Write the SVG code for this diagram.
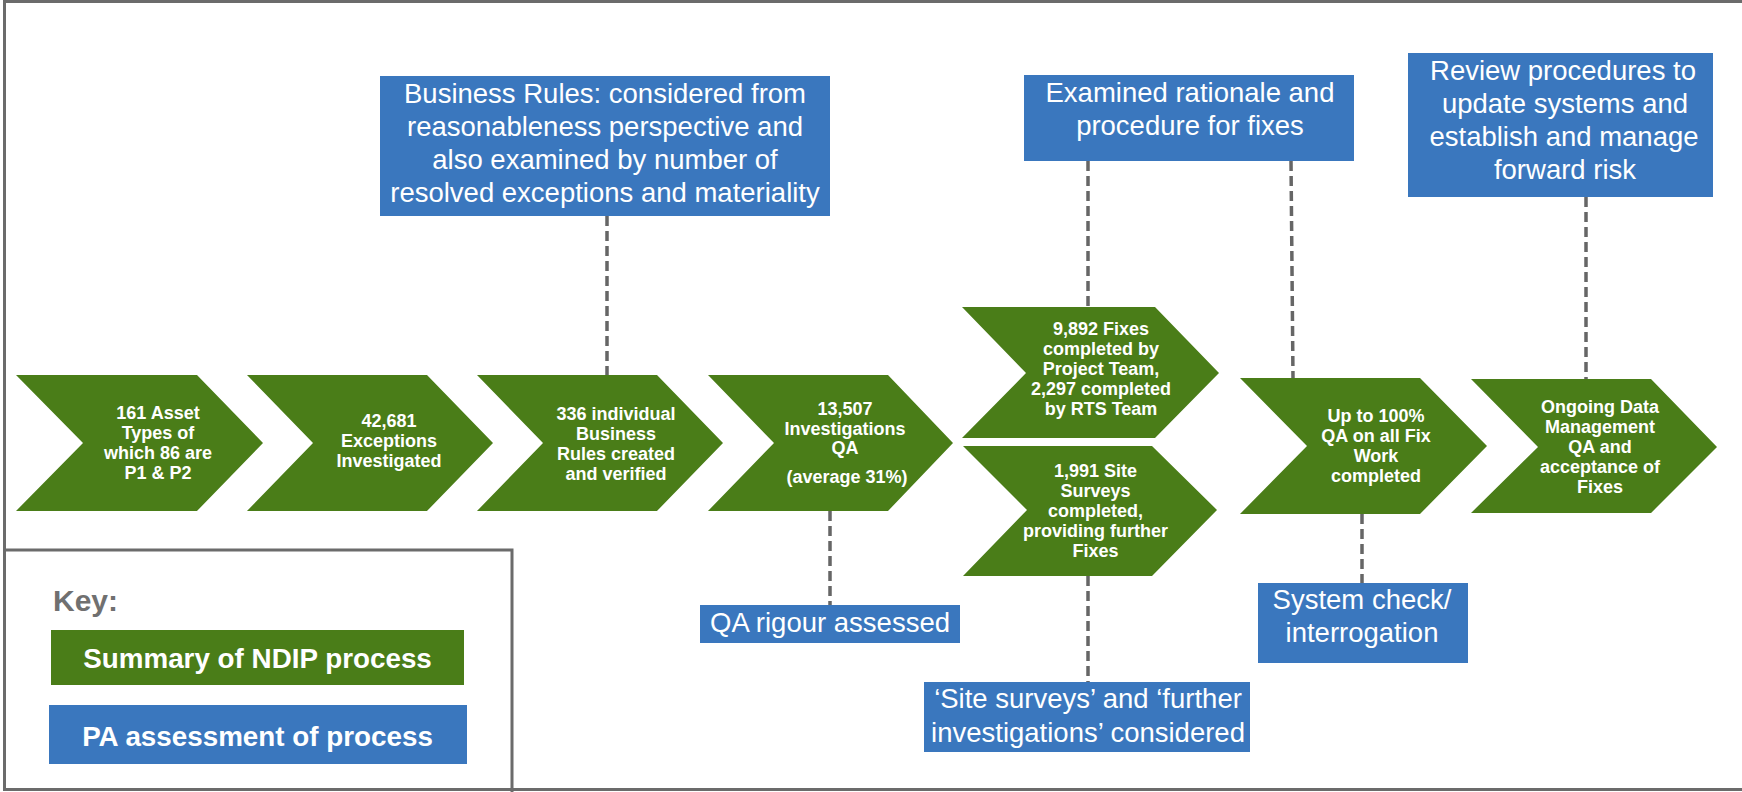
<svg xmlns="http://www.w3.org/2000/svg" width="1742" height="792" viewBox="0 0 1742 792">
<style>
.chev{fill:#4A7D18;}
.blue{fill:#3A77BE;}
.ct{font-family:"Liberation Sans",Arial,sans-serif;font-weight:bold;font-size:18px;fill:#ffffff;text-anchor:middle;}
.bt{font-family:"Liberation Sans",Arial,sans-serif;font-size:27.5px;fill:#ffffff;text-anchor:middle;}
.kt{font-family:"Liberation Sans",Arial,sans-serif;font-weight:bold;font-size:27.8px;fill:#ffffff;text-anchor:middle;}
.conn{stroke:#666666;stroke-width:3.5;stroke-dasharray:10 5;fill:none;}
.frame{stroke:#6B6B6B;stroke-width:3;fill:none;}
</style>
<rect x="0" y="0" width="1742" height="792" fill="#ffffff"/>
<g id="frame">
<path class="frame" d="M1745,1.5 H4.5 V789.5 H1745"/>
</g>
<g id="key">
<path class="frame" d="M4.5,550 H512 V792"/>
<text x="53" y="611" style="font-family:'Liberation Sans',Arial,sans-serif;font-weight:bold;font-size:30px;fill:#707070;">Key:</text>
<rect class="chev" x="51" y="630" width="413" height="55"/>
<text class="kt" x="257.5" y="668">Summary of NDIP process</text>
<rect class="blue" x="49" y="705" width="418" height="59"/>
<text class="kt" x="257.5" y="746">PA assessment of process</text>
</g>
<g id="connectors">
<line class="conn" x1="607" y1="216" x2="607" y2="375"/>
<line class="conn" x1="830" y1="511" x2="830" y2="605"/>
<line class="conn" x1="1088" y1="161" x2="1088" y2="307"/>
<line class="conn" x1="1291" y1="161" x2="1293" y2="378"/>
<line class="conn" x1="1586" y1="197" x2="1586" y2="379"/>
<line class="conn" x1="1362" y1="514" x2="1362" y2="583"/>
<line class="conn" x1="1088" y1="576" x2="1088" y2="682"/>
</g>
<g id="n1">
<polygon class="chev" points="16,375 197,375 263,443 197,511 16,511 83,443"/>
<text class="ct" x="158"><tspan x="158" y="419">161 Asset</tspan><tspan x="158" y="439">Types of</tspan><tspan x="158" y="459">which 86 are</tspan><tspan x="158" y="479">P1 &amp; P2</tspan></text>
</g>
<g id="n2">
<polygon class="chev" points="247,375 427,375 493,443 427,511 247,511 313,443"/>
<text class="ct" x="389"><tspan x="389" y="427">42,681</tspan><tspan x="389" y="447">Exceptions</tspan><tspan x="389" y="467">Investigated</tspan></text>
</g>
<g id="n3">
<polygon class="chev" points="477,375 657,375 723,443 657,511 477,511 543,443"/>
<text class="ct" x="616"><tspan x="616" y="420">336 individual</tspan><tspan x="616" y="440">Business</tspan><tspan x="616" y="460">Rules created</tspan><tspan x="616" y="480">and verified</tspan></text>
</g>
<g id="n4">
<polygon class="chev" points="708,375 888,375 953,443 888,511 708,511 774,443"/>
<text class="ct" x="845"><tspan x="845" y="415">13,507</tspan><tspan x="845" y="435">Investigations</tspan><tspan x="845" y="454">QA</tspan><tspan x="847" y="483">(average 31%)</tspan></text>
</g>
<g id="n5a">
<polygon class="chev" points="962,307 1155,307 1219,373 1155,438 962,438 1026,373"/>
<text class="ct" x="1101"><tspan x="1101" y="335">9,892 Fixes</tspan><tspan x="1101" y="355">completed by</tspan><tspan x="1101" y="375">Project Team,</tspan><tspan x="1101" y="395">2,297 completed</tspan><tspan x="1101" y="415">by RTS Team</tspan></text>
</g>
<g id="n5b">
<polygon class="chev" points="963,446 1152,446 1217,510 1152,576 963,576 1027,510"/>
<text class="ct" x="1095.5"><tspan x="1095.5" y="477">1,991 Site</tspan><tspan x="1095.5" y="497">Surveys</tspan><tspan x="1095.5" y="517">completed,</tspan><tspan x="1095.5" y="537">providing further</tspan><tspan x="1095.5" y="557">Fixes</tspan></text>
</g>
<g id="n6">
<polygon class="chev" points="1240,378 1420,378 1487,446 1420,514 1240,514 1307,446"/>
<text class="ct" x="1376"><tspan x="1376" y="422">Up to 100%</tspan><tspan x="1376" y="442">QA on all Fix</tspan><tspan x="1376" y="462">Work</tspan><tspan x="1376" y="482">completed</tspan></text>
</g>
<g id="n7">
<polygon class="chev" points="1471,379 1651,379 1717,447 1651,513 1471,513 1538,447"/>
<text class="ct" x="1600"><tspan x="1600" y="413">Ongoing Data</tspan><tspan x="1600" y="433">Management</tspan><tspan x="1600" y="453">QA and</tspan><tspan x="1600" y="473">acceptance of</tspan><tspan x="1600" y="493">Fixes</tspan></text>
</g>
<g id="b1">
<rect class="blue" x="380" y="76" width="450" height="140"/>
<text class="bt" x="605"><tspan x="605" y="103">Business Rules: considered from</tspan><tspan x="605" y="136">reasonableness perspective and</tspan><tspan x="605" y="169">also examined by number of</tspan><tspan x="605" y="202">resolved exceptions and materiality</tspan></text>
</g>
<g id="b2">
<rect class="blue" x="1024" y="75" width="330" height="86"/>
<text class="bt" x="1190"><tspan x="1190" y="102">Examined rationale and</tspan><tspan x="1190" y="135">procedure for fixes</tspan></text>
</g>
<g id="b3">
<rect class="blue" x="1408" y="53" width="305" height="144"/>
<text class="bt" x="1563"><tspan x="1563" y="80">Review procedures to</tspan><tspan x="1565" y="113">update systems and</tspan><tspan x="1564" y="146">establish and manage</tspan><tspan x="1565" y="179">forward risk</tspan></text>
</g>
<g id="b4">
<rect class="blue" x="700" y="605" width="260" height="38"/>
<text class="bt" x="830" y="632">QA rigour assessed</text>
</g>
<g id="b5">
<rect class="blue" x="924" y="682" width="326" height="70"/>
<text class="bt" x="1088"><tspan x="1088" y="708">‘Site surveys’ and ‘further</tspan><tspan x="1088" y="742">investigations’ considered</tspan></text>
</g>
<g id="b6">
<rect class="blue" x="1258" y="583" width="210" height="80"/>
<text class="bt" x="1362"><tspan x="1362" y="609">System check/</tspan><tspan x="1362" y="642">interrogation</tspan></text>
</g>
</svg>
